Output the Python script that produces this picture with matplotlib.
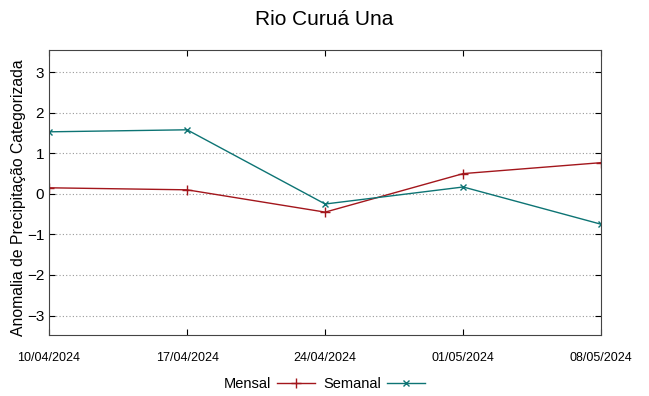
import numpy as np
import matplotlib
matplotlib.use("Agg")
import matplotlib.pyplot as plt

plt.rcParams['font.family'] = ['Liberation Sans', 'DejaVu Sans']

datas = ["10/04/2024", "17/04/2024", "24/04/2024", "01/05/2024", "08/05/2024"]
mensal = [0.15, 0.10, -0.45, 0.50, 0.77]
semanal = [1.53, 1.58, -0.25, 0.17, -0.75]

fig = plt.figure(figsize=(6.49, 3.96), dpi=100)
ax = fig.add_axes([0.0755, 0.154, 0.851, 0.72])

x = np.arange(len(datas))
ax.plot(x, mensal, color='#a3161c', marker='+', markersize=7, linewidth=1, label='Mensal')
ax.plot(x, semanal, color='#0d7474', marker='x', markersize=5, linewidth=1, label='Semanal')

ax.set_xlim(0, len(datas) - 1)
ax.set_ylim(-3.48, 3.55)
ax.set_xticks(x)
ax.set_xticklabels(datas, fontsize=9)
ax.set_yticks(np.arange(-3, 4))
ax.tick_params(axis='y', labelsize=11, direction='in', right=True, length=4)
ax.tick_params(axis='x', direction='in', top=True, length=4, pad=12)
ax.yaxis.grid(True, linestyle=(0, (1, 2)), color='#999999', linewidth=0.8)
for s in ax.spines.values():
    s.set_color('#444444')

ax.set_ylabel('Anomalia de Precipitação Categorizada', fontsize=11.3)
ax.yaxis.set_label_coords(-0.042, 0.48)
fig.suptitle('Rio Curuá Una', fontsize=15, y=0.975)

leg = fig.legend(loc='lower center', bbox_to_anchor=(0.5, -0.02), ncol=2, frameon=False,
                 fontsize=10.5, markerfirst=False, handlelength=2.6, columnspacing=0.6,
                 handletextpad=0.4)

fig.savefig('out.png', dpi=100)
